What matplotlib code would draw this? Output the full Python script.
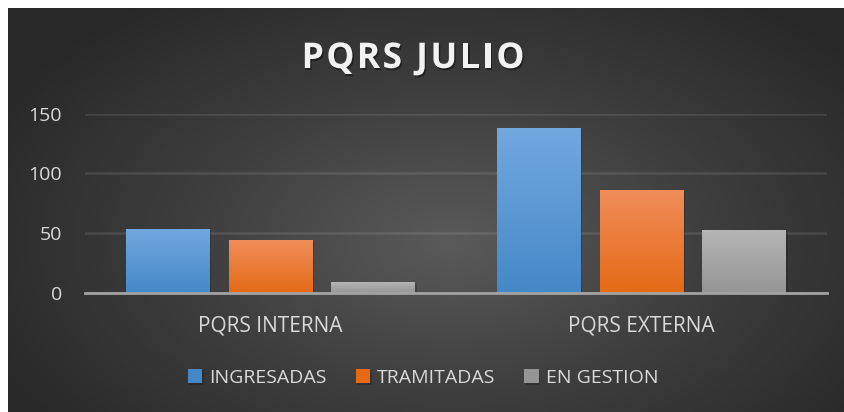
import matplotlib
matplotlib.use("Agg")
import matplotlib.pyplot as plt
import matplotlib.patheffects as pe
from matplotlib.colors import LinearSegmentedColormap
import numpy as np

# data
categories = ["PQRS INTERNA", "PQRS EXTERNA"]
series_names = ["INGRESADAS", "TRAMITADAS", "EN GESTION"]
ingresadas = [53, 138]
tramitadas = [44, 86]
en_gestion = [9, 52]
title_text = "PQRS JULIO"

# top/bottom gradient colors for each series
grad_colors = [("#72a8de", "#4588c8"),
               ("#f08d5a", "#e46a16"),
               ("#b5b5b5", "#959595")]

plt.rcParams['font.family'] = ['Open Sans', 'DejaVu Sans']
txt_color = "#d9d9d9"

fig = plt.figure(figsize=(8.44, 4.12), dpi=100)
fig.patch.set_facecolor("white")

# dark radial gradient background
bg = fig.add_axes([8/844, 0, 836/844, 404/412], zorder=-10)
yy, xx = np.mgrid[0:1:300j, 0:1:600j]
r = np.sqrt(((xx - 0.53) / 0.62) ** 2 + ((yy - 0.42) / 0.75) ** 2)
r = np.clip(r, 0, 1)
bg_cmap = LinearSegmentedColormap.from_list("bg", ["#5a5a5a", "#3e3e3e", "#282828"])
bg.imshow(r, cmap=bg_cmap, aspect="auto", extent=[0, 1, 0, 1], origin="lower")
bg.set_axis_off()

ax = fig.add_axes([85/844, 1 - 293/412, 742/844, (293 - 113.7)/412])
ax.patch.set_alpha(0)

series = [ingresadas, tramitadas, en_gestion]
x = np.arange(len(categories))
width = 0.2264
step = 0.2776

handles = []
for i, vals in enumerate(series):
    top_c, bot_c = grad_colors[i]
    cmap = LinearSegmentedColormap.from_list("g%d" % i, [bot_c, top_c])
    bars = ax.bar(x + (i - 1) * step, vals, width, color=bot_c, zorder=3,
                  label=series_names[i],
                  path_effects=[pe.SimplePatchShadow(offset=(1, -1), shadow_rgbFace="black", alpha=0.18),
                                pe.Normal()])
    for b in bars:
        x0, y0 = b.get_x(), b.get_y()
        w, h = b.get_width(), b.get_height()
        grad = np.linspace(0, 1, 100).reshape(-1, 1)
        ax.imshow(grad, cmap=cmap, aspect="auto", origin="lower",
                  extent=[x0, x0 + w, y0, y0 + h], zorder=4)
    handles.append(bars)

ax.set_xlim(-0.5, 1.5)
ax.set_ylim(0, 150)
ax.set_yticks([0, 50, 100, 150])
ax.set_xticks(x)
ax.set_xticklabels(categories)
ax.tick_params(axis="y", length=0, pad=16.5, labelsize=14, labelcolor=txt_color)
ax.tick_params(axis="x", length=0, pad=16.5, labelsize=15, labelcolor=txt_color)
ax.grid(True, axis="y", color="white", alpha=0.1, linewidth=1.8, zorder=1)
for s in ["top", "right", "left"]:
    ax.spines[s].set_visible(False)
ax.spines["bottom"].set_color("#a3a3a3")
ax.spines["bottom"].set_linewidth(2)
ax.spines["bottom"].set_zorder(5)

# legend
leg = fig.legend(handles, series_names, loc="center", bbox_to_anchor=(423/844, 1 - 378/412),
                 ncol=3, frameon=False, fontsize=14, labelcolor=txt_color,
                 handlelength=0.75, handleheight=0.75, handletextpad=0.35, columnspacing=1.5)

# title with letter spacing
fig.canvas.draw()
renderer = fig.canvas.get_renderer()
spacing = 2.5
pieces = []
total = 0
for ch in title_text:
    t = fig.text(0, 0, ch if ch != " " else "I", fontsize=25.5, fontweight="bold",
                 color="#f2f2f2", alpha=0)
    wch = t.get_window_extent(renderer).width
    if ch == " ":
        wch = wch * 0.8
    t.remove()
    pieces.append((ch, wch))
    total += wch + spacing
total -= spacing
cur = 413 - total / 2
for ch, wch in pieces:
    if ch != " ":
        fig.text(cur / 844, 1 - 68 / 412, ch, fontsize=25.5, fontweight="bold",
                 color="#f2f2f2", ha="left", va="baseline",
                 path_effects=[pe.withSimplePatchShadow(offset=(1, -1.5), shadow_rgbFace="black", alpha=0.4)])
    cur += wch + spacing

fig.savefig("out.png", dpi=100)
